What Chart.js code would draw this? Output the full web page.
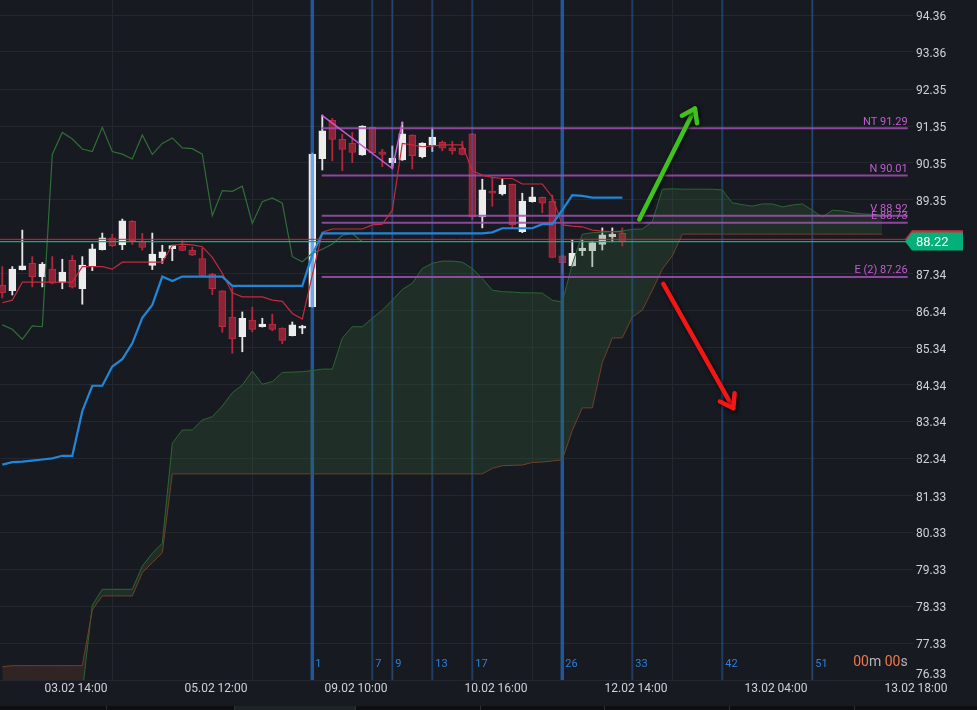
<!DOCTYPE html>
<html>
<head>
<meta charset="utf-8">
<script src="https://cdn.jsdelivr.net/npm/chart.js@4.4.0/dist/chart.umd.min.js"></script>
<style>
  html, body { margin: 0; padding: 0; background: #171a21; }
  #wrap { width: 977px; height: 710px; }
</style>
</head>
<body>
<div id="wrap"><canvas id="chart" width="977" height="710"></canvas></div>
<script>
// candles, one per slot (index 0..62)
const opens = [87.04,86.89,87.46,87.63,87.27,87.47,87.11,87.71,86.94,87.56,
  88.00,88.32,88.13,88.77,88.23,87.57,87.78,88.03,88.10,87.98,
  87.76,87.33,86.88,86.17,85.64,86.09,85.91,85.98,85.87,85.67,
  85.87,86.45,90.47,91.51,90.99,90.88,90.57,91.32,90.65,90.36,
  90.43,91.11,90.52,90.83,90.91,90.76,90.75,91.14,88.89,89.59,
  89.51,89.77,88.49,89.30,89.42,89.32,87.83,87.56,87.97,87.97,
  88.14,88.35,88.44];
const highs = [87.54,87.54,88.53,87.81,87.65,87.81,87.74,87.84,87.81,88.15,
  88.45,88.42,88.83,88.79,88.44,88.45,88.12,88.12,88.24,88.07,
  88.04,87.36,86.89,86.99,86.31,86.44,86.14,86.25,85.88,86.04,
  85.95,90.62,91.65,91.56,91.13,91.18,91.36,91.33,90.72,90.81,
  91.46,91.12,90.90,91.30,90.95,90.94,90.94,91.15,89.91,89.95,
  89.91,89.78,89.53,89.69,89.43,89.48,87.84,88.26,88.26,88.23,
  88.59,88.59,88.59];
const lows = [86.69,86.77,87.45,86.99,86.99,87.07,86.94,86.96,86.52,87.43,
  87.99,88.08,88.00,88.14,87.99,87.46,87.63,87.70,87.97,87.84,
  87.29,86.78,85.76,85.19,85.23,85.77,85.90,85.80,85.45,85.66,
  85.72,86.44,90.16,90.41,90.14,90.36,90.56,90.62,90.25,90.21,
  90.42,90.19,90.49,90.66,90.68,90.59,90.57,88.82,88.59,89.18,
  89.48,88.59,88.46,89.29,89.00,87.78,87.36,87.55,87.84,87.54,
  87.99,88.21,88.10];
const closes = [86.83,87.47,87.56,87.27,87.61,87.09,87.39,86.98,87.58,88.02,
  88.32,88.11,88.78,88.24,88.06,87.88,87.94,88.11,87.98,87.85,
  87.30,86.94,85.91,85.58,86.14,85.84,85.98,85.84,85.54,85.96,
  85.93,90.59,91.22,90.99,90.72,90.64,91.35,90.63,90.58,90.48,
  91.14,90.55,90.89,91.05,90.75,90.68,90.58,88.89,89.62,89.53,
  89.75,88.67,89.32,89.43,89.26,87.79,87.65,87.90,88.04,88.19,
  88.40,88.42,88.21];

// ichimoku lines
const tenkan = [86.56,86.63,87.12,87.12,87.12,87.12,87.12,87.12,87.54,87.54,
  87.54,87.47,87.66,87.66,87.66,87.66,87.66,88.12,88.15,88.13,
  88.08,87.79,87.36,86.83,86.72,86.72,86.72,86.63,86.60,86.27,
  86.12,87.31,88.47,88.56,88.56,88.56,88.56,88.67,88.69,89.07,
  90.88,90.84,90.79,90.81,90.84,90.84,90.84,90.14,90.02,89.96,
  89.93,89.93,89.78,89.78,89.78,89.43,88.67,88.64,88.62,88.53,
  88.50,88.49,88.49];
const kijun = [82.17,82.24,82.25,82.28,82.31,82.34,82.41,82.41,83.62,84.31,
  84.31,84.83,85.03,85.46,86.15,86.50,87.27,87.15,87.27,87.27,
  87.27,87.27,87.27,87.02,87.02,87.02,87.02,87.02,87.02,87.02,
  87.02,87.86,88.44,88.44,88.44,88.44,88.44,88.44,88.44,88.44,
  88.44,88.44,88.44,88.44,88.44,88.44,88.44,88.44,88.44,88.47,
  88.58,88.58,88.58,88.58,88.69,88.69,89.07,89.48,89.46,89.41,
  89.41,89.41,89.41];
const chikou = [85.96,85.84,85.57,85.93,85.91,90.58,91.18,91.00,90.73,90.66,
  91.32,90.66,90.59,90.46,91.11,90.58,90.88,91.03,90.76,90.74,
  90.59,88.92,89.60,89.58,89.72,88.71,89.30,89.40,89.26,87.81,
  87.67,87.90,88.01,88.15,88.39,88.44,88.21];
const senkouA = [75.98,75.98,75.98,75.98,75.98,75.98,75.98,75.98,76.00,78.36,
  78.79,78.79,78.79,78.79,79.42,79.77,80.04,82.75,83.11,83.11,
  83.38,83.47,83.76,84.12,84.33,84.71,84.35,84.42,84.67,84.68,
  84.69,84.72,84.76,84.76,85.60,85.91,85.91,86.14,86.36,86.63,
  86.92,87.09,87.49,87.63,87.69,87.69,87.66,87.49,87.22,86.90,
  86.86,86.85,86.83,86.83,86.82,86.63,86.58,87.61,88.42,88.46,
  88.47,88.49,88.51,88.55,88.56,88.76,89.64,89.65,89.64,89.64,
  89.64,89.64,89.62,89.27,89.22,89.18,89.24,89.24,89.16,89.21,
  89.24,89.07,88.88,89.07,89.05,89.00,88.97,88.96,88.94];
const senkouB = [76.69,76.72,76.72,76.72,76.72,76.72,76.72,76.72,76.72,78.23,
  78.61,78.61,78.61,78.61,79.24,79.51,79.78,81.92,81.92,81.92,
  81.92,81.92,81.92,81.92,81.92,81.92,81.92,81.92,81.92,81.92,
  81.92,81.92,81.92,81.92,81.92,81.92,81.92,81.92,81.92,81.92,
  81.92,81.92,81.92,81.92,81.92,81.92,81.92,81.92,81.92,82.07,
  82.14,82.15,82.16,82.23,82.24,82.27,82.30,83.10,83.71,83.71,
  84.94,85.60,85.61,86.17,86.36,86.90,87.47,87.83,88.42,88.42,
  88.42,88.42,88.42,88.42,88.42,88.42,88.42,88.42,88.42,88.42,
  88.42,88.42,88.42,88.42,88.42,88.42,88.42,88.42,88.42];

// drawn levels
const levelNames = ['NT', 'N', 'V', 'E', 'E (2)'];
const levelValues = [91.29, 90.01, 88.92, 88.73, 87.26];
const levelFrom = 31.94, levelTo = 90.54;
const waveX = [31.94, 39, 40];
const waveY = [91.65, 90.20, 91.46];
const upArrowX = [63.7, 69.27], upArrowY = [88.82, 91.83];
const downArrowX = [66.1, 73.1], downArrowY = [87.07, 83.70];

// time cycle lines
const cycleIdx = [31, 37, 39, 43, 47, 56, 63, 72, 81];
const cycleLabels = ['1', '7', '9', '13', '17', '26', '33', '42', '51'];
const cycleMajor = [true, false, false, false, false, true, false, false, false];

const bidPrice = 88.22, askPrice = 88.28;
const countdown = ['00', 'm ', '00', 's'];

// axes
const yTickValues = [94.36, 93.36, 92.35, 91.35, 90.35, 89.35, 87.34, 86.34, 85.34,
  84.34, 83.34, 82.34, 81.33, 80.33, 79.33, 78.33, 77.33, 76.33];
const xGridIdx = [4, 18, 32, 46, 60, 74, 88];
const xLabelIdx = [7.37, 21.37, 35.37, 49.37, 63.37, 77.37, 91.37];
const xLabels = ['03.02 14:00', '05.02 12:00', '09.02 10:00', '10.02 16:00',
  '12.02 14:00', '13.02 04:00', '13.02 18:00'];
const xMin = -0.23, xMax = 91.07, yMin = 76.33, yMax = 94.77;

const FONT = 'Roboto, "Noto Sans", sans-serif';
const BG = '#171a21';
const GRID = '#23272f';
const TXT = '#cfd2d8';

const pts = (xs, ys) => ys.map((y, i) => ({ x: xs[i], y }));
const idx = n => Array.from({ length: n }, (_, i) => i);
const isUp = i => closes[i] >= opens[i];
const candleI = idx(opens.length);

const lineDs = (data, color, width, order, extra) => Object.assign({
  type: 'line', data, borderColor: color, borderWidth: width,
  pointRadius: 0, tension: 0, fill: false, order
}, extra || {});

const datasets = [
  { type: 'bar', data: candleI.map(i => ({ x: i, y: [lows[i], highs[i]] })),
    backgroundColor: candleI.map(i => isUp(i) ? '#e6e6e6' : '#b5263c'),
    barThickness: 1.2, grouped: false, borderSkipped: false, order: 20 },
  { type: 'bar', data: candleI.map(i => ({ x: i, y: [opens[i], closes[i]] })),
    backgroundColor: candleI.map(i => isUp(i) ? '#ececec' : '#8f2234'),
    borderColor: candleI.map(i => isUp(i) ? '#ececec' : '#bd2a40'),
    borderWidth: 1, barThickness: 7, grouped: false, borderSkipped: false, order: 19 },
  lineDs(pts(idx(senkouA.length), senkouA), '#2c6632', 1, 16,
    { fill: { target: '+1', above: 'rgba(56,110,60,0.26)', below: 'rgba(120,70,40,0.26)' } }),
  lineDs(pts(idx(senkouB.length), senkouB), '#6e4127', 1, 15),
];
levelValues.forEach(v => {
  datasets.push(lineDs(pts([levelFrom, levelTo], [v, v]), 'rgba(160,80,175,0.85)', 2, 10));
});
datasets.push(lineDs(pts(waveX, waveY), '#c95bd2', 1.5, 9));
datasets.push(lineDs(pts(idx(chikou.length), chikou), '#2f6e36', 1.2, 8));
datasets.push(lineDs(pts(idx(tenkan.length), tenkan), '#c42a40', 1.2, 7));
datasets.push(lineDs(pts(idx(kijun.length), kijun), '#2286d8', 2.2, 6));
datasets.push(lineDs(pts([xMin, xMax], [askPrice, askPrice]), '#c8283e', 1, 5));
datasets.push(lineDs(pts([xMin, xMax], [bidPrice, bidPrice]), '#08b47e', 1.3, 4));
const UP_ARROW = datasets.length;
datasets.push(lineDs(pts(upArrowX, upArrowY), '#40c21c', 4.5, 2, { borderCapStyle: 'round' }));
const DOWN_ARROW = datasets.length;
datasets.push(lineDs(pts(downArrowX, downArrowY), '#f31616', 4.5, 1, { borderCapStyle: 'round' }));

const bgPlugin = {
  id: 'bg',
  beforeDraw(chart) {
    const { ctx } = chart;
    ctx.save();
    ctx.fillStyle = BG;
    ctx.fillRect(0, 0, chart.width, chart.height);
    ctx.restore();
  }
};

// vertical cycle lines go over the candles, under the cloud and indicator lines
const cyclePlugin = {
  id: 'cycles',
  afterDatasetDraw(chart, args) {
    if (args.index !== 1) return;
    const { ctx, chartArea, scales } = chart;
    ctx.save();
    cycleIdx.forEach((k, i) => {
      const x = scales.x.getPixelForValue(k);
      ctx.strokeStyle = cycleMajor[i] ? 'rgba(41,125,225,0.62)' : 'rgba(41,125,225,0.36)';
      ctx.lineWidth = cycleMajor[i] ? 3.5 : 2;
      ctx.beginPath();
      ctx.moveTo(x, chartArea.top);
      ctx.lineTo(x, chartArea.bottom);
      ctx.stroke();
    });
    ctx.restore();
  }
};

const arrowPlugin = {
  id: 'arrows',
  beforeDatasetDraw(chart, args) {
    if (args.index !== UP_ARROW && args.index !== DOWN_ARROW) return;
    const ctx = chart.ctx;
    ctx.save();
    ctx.shadowColor = 'rgba(0,0,0,0.75)';
    ctx.shadowBlur = 4;
    ctx.shadowOffsetX = 1;
    ctx.shadowOffsetY = 1;
  },
  afterDatasetDraw(chart, args) {
    if (args.index !== UP_ARROW && args.index !== DOWN_ARROW) return;
    const ctx = chart.ctx;
    const ds = chart.data.datasets[args.index];
    const p = chart.getDatasetMeta(args.index).data;
    const a = Math.atan2(p[1].y - p[0].y, p[1].x - p[0].x);
    const L = 15, t = 0.6;
    ctx.strokeStyle = ds.borderColor;
    ctx.lineWidth = 4.5;
    ctx.lineCap = 'round';
    ctx.lineJoin = 'round';
    ctx.beginPath();
    ctx.moveTo(p[1].x - L * Math.cos(a - t), p[1].y - L * Math.sin(a - t));
    ctx.lineTo(p[1].x, p[1].y);
    ctx.lineTo(p[1].x - L * Math.cos(a + t), p[1].y - L * Math.sin(a + t));
    ctx.stroke();
    ctx.restore();
  }
};

function priceTag(ctx, x0, y, color) {
  ctx.fillStyle = color;
  ctx.beginPath();
  ctx.moveTo(x0 - 7, y);
  ctx.lineTo(x0, y - 9);
  ctx.lineTo(x0 + 51, y - 9);
  ctx.lineTo(x0 + 51, y + 9);
  ctx.lineTo(x0, y + 9);
  ctx.closePath();
  ctx.fill();
}

const overlayPlugin = {
  id: 'overlay',
  afterDraw(chart) {
    const { ctx, scales, chartArea } = chart;
    const xs = scales.x, ys = scales.y;
    ctx.save();

    // level captions
    ctx.font = '11px ' + FONT;
    ctx.fillStyle = '#c15ccf';
    ctx.textAlign = 'right';
    ctx.textBaseline = 'alphabetic';
    levelValues.forEach((v, i) => {
      ctx.fillText(levelNames[i] + ' ' + v.toFixed(2), xs.getPixelForValue(levelTo), ys.getPixelForValue(v) - 3.5);
    });

    // cycle numbers
    ctx.font = '11px ' + FONT;
    ctx.fillStyle = '#2f7fd6';
    ctx.textAlign = 'left';
    ctx.textBaseline = 'middle';
    cycleIdx.forEach((k, i) => {
      ctx.fillText(cycleLabels[i], xs.getPixelForValue(k) + 3, chartArea.bottom - 16);
    });

    // countdown
    ctx.font = '14px ' + FONT;
    const widths = countdown.map(s => ctx.measureText(s).width);
    let cx = xs.getPixelForValue(levelTo) - widths.reduce((a, b) => a + b, 0);
    countdown.forEach((s, i) => {
      ctx.fillStyle = i % 2 === 0 ? '#f0784a' : '#b2b5be';
      ctx.fillText(s, cx, chartArea.bottom - 18);
      cx += widths[i];
    });

    // price tags
    const tagX = chartArea.right - 1;
    priceTag(ctx, tagX, ys.getPixelForValue(askPrice), '#cf2a3e');
    const by = ys.getPixelForValue(bidPrice);
    priceTag(ctx, tagX, by, '#03b078');
    ctx.font = '13px ' + FONT;
    ctx.fillStyle = '#ffffff';
    ctx.textAlign = 'left';
    ctx.fillText(bidPrice.toFixed(2), chartArea.right + 3, by + 1);

    // tab strip along the bottom edge
    ctx.fillStyle = '#0c0e12';
    ctx.fillRect(0, 706, chart.width, 4);
    ctx.fillStyle = '#1e2327';
    ctx.fillRect(235, 706, 120, 4);
    ctx.fillStyle = '#2b2f36';
    [106, 234, 355, 480, 604, 729, 854].forEach(x => ctx.fillRect(x, 706, 1, 4));
    ctx.restore();
  }
};

new Chart(document.getElementById('chart'), {
  type: 'line',
  data: { datasets },
  options: {
    responsive: false,
    devicePixelRatio: 1,
    animation: false,
    events: [],
    layout: { padding: 0, autoPadding: false },
    plugins: { legend: { display: false }, tooltip: { enabled: false } },
    scales: {
      x: {
        type: 'linear', position: 'bottom', min: xMin, max: xMax, offset: false,
        grid: { color: GRID, drawTicks: false },
        border: { display: false },
        ticks: { display: false },
        afterBuildTicks: s => { s.ticks = xGridIdx.map(v => ({ value: v })); },
        afterFit: s => { s.height = 0; s.paddingLeft = 0; s.paddingRight = 0; }
      },
      xl: {
        type: 'linear', position: 'bottom', min: xMin, max: xMax, offset: false,
        grid: { display: false, drawTicks: false },
        border: { display: false },
        ticks: {
          color: TXT, font: { family: FONT, size: 12 }, padding: 2,
          autoSkip: false, maxRotation: 0, minRotation: 0,
          callback: (v, i) => xLabels[i]
        },
        afterBuildTicks: s => { s.ticks = xLabelIdx.map(v => ({ value: v })); },
        afterFit: s => { s.height = 30; s.paddingLeft = 0; s.paddingRight = 0; }
      },
      y: {
        type: 'linear', position: 'right', min: yMin, max: yMax,
        grid: { color: GRID, drawTicks: false },
        border: { display: false },
        ticks: {
          color: TXT, font: { family: FONT, size: 12 }, padding: 3, autoSkip: false,
          labelOffset: 2,
          callback: (v, i) => i === yTickValues.length - 1 ? [v.toFixed(2), ''] : v.toFixed(2)
        },
        afterBuildTicks: s => { s.ticks = yTickValues.map(v => ({ value: v })); },
        afterFit: s => { s.width = 64; s.paddingTop = 0; s.paddingBottom = 0; }
      }
    }
  },
  plugins: [bgPlugin, cyclePlugin, arrowPlugin, overlayPlugin]
});
</script>
</body>
</html>
